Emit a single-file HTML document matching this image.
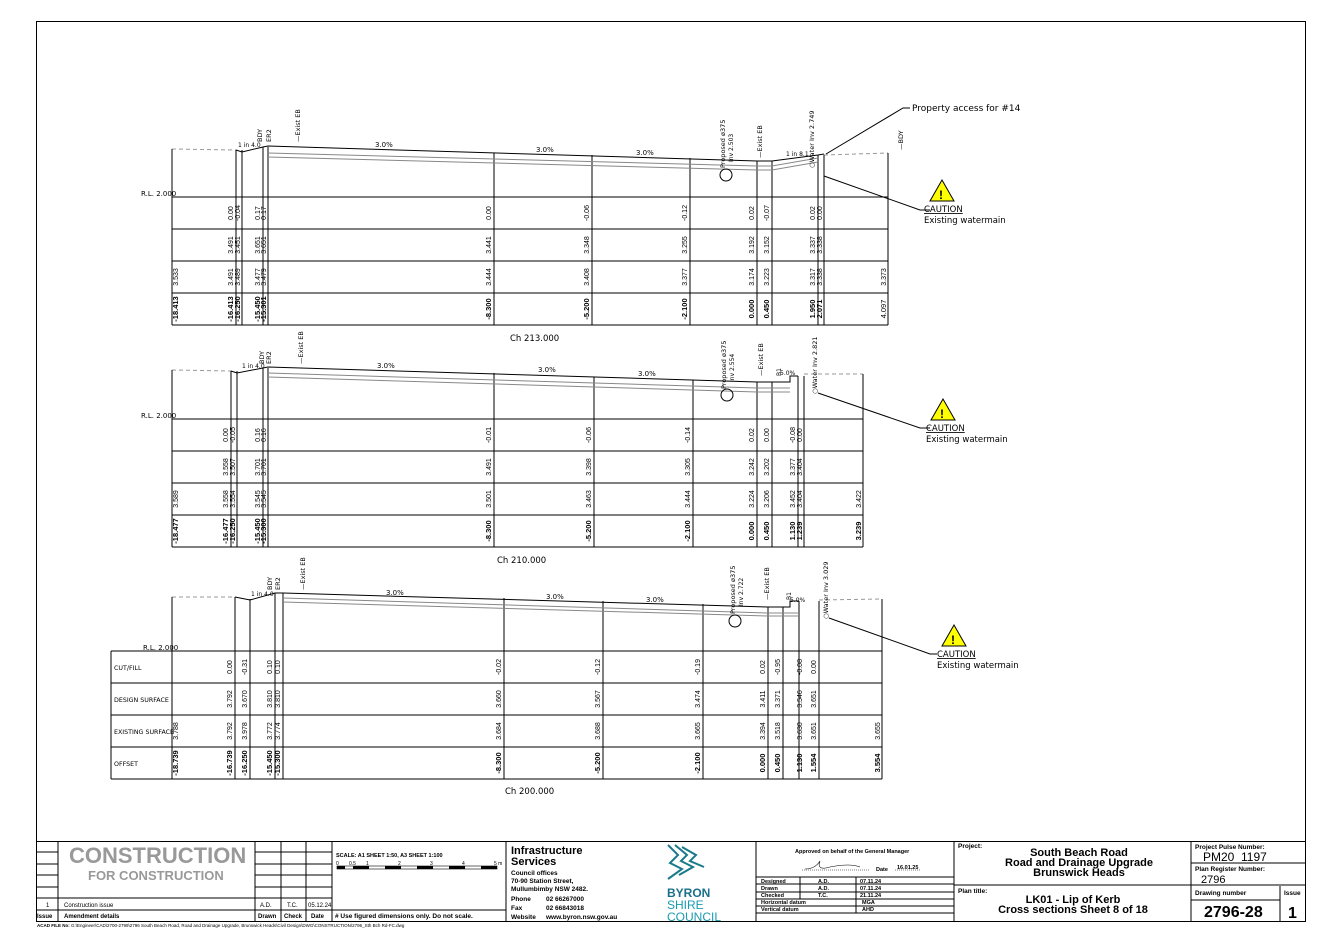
<!DOCTYPE html>
<html><head><meta charset="utf-8"><style>
body{margin:0;background:#fff}
svg{display:block}
text{font-family:"Liberation Sans",sans-serif;fill:#000}
.v{font-size:7px;text-anchor:middle}
.b{font-size:7.5px;font-weight:bold;text-anchor:middle}
.s{font-size:8px;font-family:"DejaVu Sans",sans-serif}
.l{stroke:#000;stroke-width:1;fill:none}
.g{stroke:#888;stroke-width:1;fill:none}
.d{stroke:#999;stroke-width:1;fill:none;stroke-dasharray:4 3}
</style></head><body>
<svg width="1340" height="948" viewBox="0 0 1340 948" xmlns="http://www.w3.org/2000/svg">
<rect x="36.5" y="21.5" width="1269" height="900" class="l"/>

<!-- SECTION 1 -->
<g>
<path class="d" d="M172 149 L236 150 M824 155 L888 153"/>
<path class="l" d="M172 149 V325 M236 150 V325 M242 150 V325 M263 147 V325 M268 147 V325 M494 153 V325 M592 155 V325 M690 158 V325 M757 161 V325 M772 161 V325 M818 155 V325 M824 155 V325 M888 153 V325"/>
<path class="l" d="M172 197H888 M172 229H888 M172 261H888 M172 293H888 M172 325H888"/>
<path class="l" d="M236 150 L242 152 L263 147 L268 146 L757 161 L772 161 L818 155 L824 154"/>
<path class="g" d="M268 153 L757 166 L772 166 L818 158 M268 157 L757 170 L772 170 L818 162"/>
<circle cx="726" cy="175" r="6" class="l"/>
<text class="s" x="141" y="196" style="font-size:7px">R.L. 2.000</text>
<text class="s" x="375" y="147" style="font-size:7px">3.0%</text>
<text class="s" x="536" y="152" style="font-size:7px">3.0%</text>
<text class="s" x="636" y="155" style="font-size:7px">3.0%</text>
<text class="s" x="786" y="156" style="font-size:6px">1 in 8.1</text>
<text class="s" x="238" y="147" style="font-size:6px">1 in 4.0</text>
<text class="s" transform="translate(262,142) rotate(-90)" style="font-size:6.5px">BDY</text>
<text class="s" transform="translate(271,142) rotate(-90)" style="font-size:6.5px">ER2</text>
<text class="s" transform="translate(300,142) rotate(-90)" style="font-size:6.5px">—Exist EB</text>
<text class="s" transform="translate(725,168) rotate(-90)" style="font-size:6.5px">Proposed ø375</text>
<text class="s" transform="translate(733,162) rotate(-90)" style="font-size:6px">Inv 2.503</text>
<text class="s" transform="translate(762,158) rotate(-90)" style="font-size:6.5px">—Exist EB</text>
<text class="s" transform="translate(814,168) rotate(-90)" style="font-size:6.5px">○Water Inv 2.749</text>
<text class="s" transform="translate(903,150) rotate(-90)" style="font-size:6.5px">—BDY</text>
<text class="s" x="510" y="341" style="font-size:8.5px">Ch 213.000</text>
<g class="v">
<text transform="translate(233,213) rotate(-90)">0.00</text><text transform="translate(240,213) rotate(-90)">-0.04</text>
<text transform="translate(260,213) rotate(-90)">0.17</text><text transform="translate(266,213) rotate(-90)">0.17</text>
<text transform="translate(491,213) rotate(-90)">0.00</text><text transform="translate(589,213) rotate(-90)">-0.06</text>
<text transform="translate(687,213) rotate(-90)">-0.12</text><text transform="translate(754,213) rotate(-90)">0.02</text>
<text transform="translate(769,213) rotate(-90)">-0.07</text><text transform="translate(815,213) rotate(-90)">0.02</text><text transform="translate(822,213) rotate(-90)">0.00</text>
<text transform="translate(233,245) rotate(-90)">3.491</text><text transform="translate(240,245) rotate(-90)">3.451</text>
<text transform="translate(260,245) rotate(-90)">3.651</text><text transform="translate(266,245) rotate(-90)">3.651</text>
<text transform="translate(491,245) rotate(-90)">3.441</text><text transform="translate(589,245) rotate(-90)">3.348</text>
<text transform="translate(687,245) rotate(-90)">3.255</text><text transform="translate(754,245) rotate(-90)">3.192</text>
<text transform="translate(769,245) rotate(-90)">3.152</text><text transform="translate(815,245) rotate(-90)">3.337</text><text transform="translate(822,245) rotate(-90)">3.338</text>
<text transform="translate(178,277) rotate(-90)">3.533</text>
<text transform="translate(233,277) rotate(-90)">3.491</text><text transform="translate(240,277) rotate(-90)">3.489</text>
<text transform="translate(260,277) rotate(-90)">3.477</text><text transform="translate(266,277) rotate(-90)">3.479</text>
<text transform="translate(491,277) rotate(-90)">3.444</text><text transform="translate(589,277) rotate(-90)">3.408</text>
<text transform="translate(687,277) rotate(-90)">3.377</text><text transform="translate(754,277) rotate(-90)">3.174</text>
<text transform="translate(769,277) rotate(-90)">3.223</text><text transform="translate(815,277) rotate(-90)">3.317</text><text transform="translate(822,277) rotate(-90)">3.338</text>
<text transform="translate(886,277) rotate(-90)">3.373</text>
</g>
<g class="b">
<text transform="translate(178,309) rotate(-90)">-18.413</text>
<text transform="translate(233,309) rotate(-90)">-16.413</text><text transform="translate(240,309) rotate(-90)">-16.250</text>
<text transform="translate(260,309) rotate(-90)">-15.450</text><text transform="translate(266,309) rotate(-90)">-15.301</text>
<text transform="translate(491,309) rotate(-90)">-8.300</text><text transform="translate(589,309) rotate(-90)">-5.200</text>
<text transform="translate(687,309) rotate(-90)">-2.100</text><text transform="translate(754,309) rotate(-90)">0.000</text>
<text transform="translate(769,309) rotate(-90)">0.450</text><text transform="translate(815,309) rotate(-90)">1.950</text><text transform="translate(822,309) rotate(-90)">2.071</text>
<text transform="translate(886,309) rotate(-90)" style="font-weight:normal">4.097</text>
</g>
<path class="l" d="M826 154 L903 108 H910 M824 176 L920 210 H930"/>
<text class="s" x="912" y="111" style="font-size:9px">Property access for #14</text>
<polygon points="942,180 930,201 954,201" fill="#ff0" stroke="#000"/><text x="939" y="199" style="font-size:12px;font-weight:bold">!</text>
<text class="s" x="924" y="212" style="font-size:8.5px;text-decoration:underline">CAUTION</text>
<text class="s" x="924" y="223" style="font-size:8.5px">Existing watermain</text>
</g>

<!-- SECTION 2 -->
<g>
<path class="d" d="M172 370 L231 371 M804 374 L863 374"/>
<path class="l" d="M172 370 V547 M231 371 V547 M237 371 V547 M263 368 V547 M268 368 V547 M494 373 V547 M594 377 V547 M693 380 V547 M757 382 V547 M772 382 V547 M798 376 V547 M804 376 V547 M863 374 V547"/>
<path class="l" d="M172 419H863 M172 451H863 M172 483H863 M172 515H863 M172 547H863"/>
<path class="l" d="M231 371 L237 373 L263 368 L268 367 L757 382 L790 382 L790 376 L798 376"/>
<path class="g" d="M268 373 L757 388 L790 388 M268 377 L757 392 L790 392"/>
<circle cx="727" cy="395" r="6" class="l"/>
<text class="s" x="141" y="418" style="font-size:7px">R.L. 2.000</text>
<text class="s" x="377" y="368" style="font-size:7px">3.0%</text>
<text class="s" x="538" y="372" style="font-size:7px">3.0%</text>
<text class="s" x="638" y="376" style="font-size:7px">3.0%</text>
<text class="s" x="780" y="375" style="font-size:6px">5.0%</text>
<text class="s" x="242" y="368" style="font-size:6px">1 in 4.0</text>
<text class="s" transform="translate(264,364) rotate(-90)" style="font-size:6.5px">BDY</text>
<text class="s" transform="translate(271,364) rotate(-90)" style="font-size:6.5px">ER2</text>
<text class="s" transform="translate(303,364) rotate(-90)" style="font-size:6.5px">—Exist EB</text>
<text class="s" transform="translate(726,389) rotate(-90)" style="font-size:6.5px">Proposed ø375</text>
<text class="s" transform="translate(734,382) rotate(-90)" style="font-size:6px">Inv 2.554</text>
<text class="s" transform="translate(763,376) rotate(-90)" style="font-size:6.5px">—Exist EB</text>
<text class="s" transform="translate(781,376) rotate(-90)" style="font-size:6px">B1</text>
<text class="s" transform="translate(817,394) rotate(-90)" style="font-size:6.5px">○Water Inv 2.821</text>
<text class="s" x="497" y="563" style="font-size:8.5px">Ch 210.000</text>
<g class="v">
<text transform="translate(228,435) rotate(-90)">0.00</text><text transform="translate(235,435) rotate(-90)">-0.05</text>
<text transform="translate(260,435) rotate(-90)">0.16</text><text transform="translate(266,435) rotate(-90)">0.16</text>
<text transform="translate(491,435) rotate(-90)">-0.01</text><text transform="translate(591,435) rotate(-90)">-0.06</text>
<text transform="translate(690,435) rotate(-90)">-0.14</text><text transform="translate(754,435) rotate(-90)">0.02</text>
<text transform="translate(769,435) rotate(-90)">0.00</text><text transform="translate(795,435) rotate(-90)">-0.08</text><text transform="translate(802,435) rotate(-90)">0.00</text>
<text transform="translate(228,467) rotate(-90)">3.558</text><text transform="translate(235,467) rotate(-90)">3.507</text>
<text transform="translate(260,467) rotate(-90)">3.701</text><text transform="translate(266,467) rotate(-90)">3.701</text>
<text transform="translate(491,467) rotate(-90)">3.491</text><text transform="translate(591,467) rotate(-90)">3.398</text>
<text transform="translate(690,467) rotate(-90)">3.305</text><text transform="translate(754,467) rotate(-90)">3.242</text>
<text transform="translate(769,467) rotate(-90)">3.202</text><text transform="translate(795,467) rotate(-90)">3.377</text><text transform="translate(802,467) rotate(-90)">3.404</text>
<text transform="translate(178,499) rotate(-90)">3.589</text>
<text transform="translate(228,499) rotate(-90)">3.558</text><text transform="translate(235,499) rotate(-90)">3.554</text>
<text transform="translate(260,499) rotate(-90)">3.545</text><text transform="translate(266,499) rotate(-90)">3.545</text>
<text transform="translate(491,499) rotate(-90)">3.501</text><text transform="translate(591,499) rotate(-90)">3.463</text>
<text transform="translate(690,499) rotate(-90)">3.444</text><text transform="translate(754,499) rotate(-90)">3.224</text>
<text transform="translate(769,499) rotate(-90)">3.206</text><text transform="translate(795,499) rotate(-90)">3.452</text><text transform="translate(802,499) rotate(-90)">3.404</text>
<text transform="translate(861,499) rotate(-90)">3.422</text>
</g>
<g class="b">
<text transform="translate(178,531) rotate(-90)">-18.477</text>
<text transform="translate(228,531) rotate(-90)">-16.477</text><text transform="translate(235,531) rotate(-90)">-16.250</text>
<text transform="translate(260,531) rotate(-90)">-15.450</text><text transform="translate(266,531) rotate(-90)">-15.300</text>
<text transform="translate(491,531) rotate(-90)">-8.300</text><text transform="translate(591,531) rotate(-90)">-5.200</text>
<text transform="translate(690,531) rotate(-90)">-2.100</text><text transform="translate(754,531) rotate(-90)">0.000</text>
<text transform="translate(769,531) rotate(-90)">0.450</text><text transform="translate(795,531) rotate(-90)">1.130</text><text transform="translate(802,531) rotate(-90)">1.239</text>
<text transform="translate(861,531) rotate(-90)">3.239</text>
</g>
<path class="l" d="M818 393 L920 428 H930"/>
<polygon points="943,399 931,420 955,420" fill="#ff0" stroke="#000"/><text x="940" y="418" style="font-size:12px;font-weight:bold">!</text>
<text class="s" x="926" y="431" style="font-size:8.5px;text-decoration:underline">CAUTION</text>
<text class="s" x="926" y="442" style="font-size:8.5px">Existing watermain</text>
</g>

<!-- SECTION 3 -->
<g>
<path class="d" d="M172 597 L235 597 M819 600 L882 599"/>
<path class="l" d="M172 597 V779 M235 597 V779 M250 599 V779 M275 593 V779 M283 593 V779 M504 598 V779 M603 601 V779 M703 604 V779 M768 607 V779 M783 607 V779 M799 601 V779 M819 601 V779 M882 599 V779"/>
<path class="l" d="M111 651H882 M111 683H882 M111 715H882 M111 747H882 M111 779H882 M111 651 V779"/>
<path class="l" d="M235 597 L250 600 L275 593 L283 593 L768 607 L790 607 L790 601 L799 601"/>
<path class="g" d="M283 598 L768 613 L798 613 M283 602 L768 616 L798 616"/>
<circle cx="735" cy="621" r="6" class="l"/>
<text class="s" x="143" y="650" style="font-size:7px">R.L. 2.000</text>
<text class="s" x="114" y="670" style="font-size:6.3px">CUT/FILL</text>
<text class="s" x="114" y="702" style="font-size:6.3px">DESIGN SURFACE</text>
<text class="s" x="114" y="734" style="font-size:6.3px">EXISTING SURFACE</text>
<text class="s" x="114" y="766" style="font-size:6.3px">OFFSET</text>
<text class="s" x="386" y="595" style="font-size:7px">3.0%</text>
<text class="s" x="546" y="599" style="font-size:7px">3.0%</text>
<text class="s" x="646" y="602" style="font-size:7px">3.0%</text>
<text class="s" x="790" y="602" style="font-size:6px">5.0%</text>
<text class="s" x="251" y="596" style="font-size:6px">1 in 4.0</text>
<text class="s" transform="translate(272,590) rotate(-90)" style="font-size:6.5px">BDY</text>
<text class="s" transform="translate(280,590) rotate(-90)" style="font-size:6.5px">ER2</text>
<text class="s" transform="translate(305,590) rotate(-90)" style="font-size:6.5px">—Exist EB</text>
<text class="s" transform="translate(735,614) rotate(-90)" style="font-size:6.5px">Proposed ø375</text>
<text class="s" transform="translate(743,606) rotate(-90)" style="font-size:6px">Inv 2.722</text>
<text class="s" transform="translate(769,600) rotate(-90)" style="font-size:6.5px">—Exist EB</text>
<text class="s" transform="translate(791,600) rotate(-90)" style="font-size:6px">B1</text>
<text class="s" transform="translate(828,619) rotate(-90)" style="font-size:6.5px">○Water Inv 3.029</text>
<text class="s" x="505" y="794" style="font-size:8.5px">Ch 200.000</text>
<g class="v">
<text transform="translate(232,667) rotate(-90)">0.00</text><text transform="translate(247,667) rotate(-90)">-0.31</text>
<text transform="translate(272,667) rotate(-90)">0.10</text><text transform="translate(280,667) rotate(-90)">0.10</text>
<text transform="translate(501,667) rotate(-90)">-0.02</text><text transform="translate(600,667) rotate(-90)">-0.12</text>
<text transform="translate(700,667) rotate(-90)">-0.19</text><text transform="translate(765,667) rotate(-90)">0.02</text>
<text transform="translate(780,667) rotate(-90)">-0.95</text><text transform="translate(802,667) rotate(-90)">-0.08</text><text transform="translate(816,667) rotate(-90)">0.00</text>
<text transform="translate(232,699) rotate(-90)">3.792</text><text transform="translate(247,699) rotate(-90)">3.670</text>
<text transform="translate(272,699) rotate(-90)">3.810</text><text transform="translate(280,699) rotate(-90)">3.810</text>
<text transform="translate(501,699) rotate(-90)">3.660</text><text transform="translate(600,699) rotate(-90)">3.567</text>
<text transform="translate(700,699) rotate(-90)">3.474</text><text transform="translate(765,699) rotate(-90)">3.411</text>
<text transform="translate(780,699) rotate(-90)">3.371</text><text transform="translate(802,699) rotate(-90)">3.546</text><text transform="translate(816,699) rotate(-90)">3.651</text>
<text transform="translate(178,731) rotate(-90)">3.788</text>
<text transform="translate(232,731) rotate(-90)">3.792</text><text transform="translate(247,731) rotate(-90)">3.978</text>
<text transform="translate(272,731) rotate(-90)">3.772</text><text transform="translate(280,731) rotate(-90)">3.774</text>
<text transform="translate(501,731) rotate(-90)">3.684</text><text transform="translate(600,731) rotate(-90)">3.688</text>
<text transform="translate(700,731) rotate(-90)">3.665</text><text transform="translate(765,731) rotate(-90)">3.394</text>
<text transform="translate(780,731) rotate(-90)">3.518</text><text transform="translate(802,731) rotate(-90)">3.630</text><text transform="translate(816,731) rotate(-90)">3.651</text>
<text transform="translate(880,731) rotate(-90)">3.655</text>
</g>
<g class="b">
<text transform="translate(178,763) rotate(-90)">-18.739</text>
<text transform="translate(232,763) rotate(-90)">-16.739</text><text transform="translate(247,763) rotate(-90)">-16.250</text>
<text transform="translate(272,763) rotate(-90)">-15.450</text><text transform="translate(280,763) rotate(-90)">-15.300</text>
<text transform="translate(501,763) rotate(-90)">-8.300</text><text transform="translate(600,763) rotate(-90)">-5.200</text>
<text transform="translate(700,763) rotate(-90)">-2.100</text><text transform="translate(765,763) rotate(-90)">0.000</text>
<text transform="translate(780,763) rotate(-90)">0.450</text><text transform="translate(802,763) rotate(-90)">1.130</text><text transform="translate(816,763) rotate(-90)">1.554</text>
<text transform="translate(880,763) rotate(-90)">3.554</text>
</g>
<path class="l" d="M829 618 L930 654 H937"/>
<polygon points="954,625 942,646 966,646" fill="#ff0" stroke="#000"/><text x="951" y="644" style="font-size:12px;font-weight:bold">!</text>
<text class="s" x="937" y="657" style="font-size:8.5px;text-decoration:underline">CAUTION</text>
<text class="s" x="937" y="668" style="font-size:8.5px">Existing watermain</text>
</g>

<!-- TITLE BLOCK -->
<g>
<path class="l" d="M36 841.5 H1305 M36 921.5 H1305"/>
<path class="l" d="M58 841 V922 M255 841 V922 M281 841 V922 M306 841 V922 M332 841 V922 M506 841 V922 M756 841 V922 M954 841 V922 M1191 841 V922 M1280 886 V922"/>
<path class="l" d="M36 852H58 M36 864H58 M36 875H58 M36 887H58 M255 852H332 M255 864H332 M255 875H332 M255 887H332 M36 898H332 M36 910H506 M756 877H954 M756 884H954 M756 892H954 M756 899H954 M756 906H954 M756 913H954 M954 885H1191 M1191 863H1305 M1191 885H1305 M1191 900H1280 M800 877V899 M856 877V913"/>
<text x="69" y="863" style="font-size:22px;font-weight:bold;fill:#999">CONSTRUCTION</text>
<text x="88" y="880" style="font-size:13px;font-weight:bold;fill:#999">FOR CONSTRUCTION</text>
<text x="46" y="907" style="font-size:6px">1</text><text x="64" y="907" style="font-size:6px">Construction issue</text>
<text x="260" y="907" style="font-size:6px">A.D.</text><text x="287" y="907" style="font-size:6px">T.C.</text><text x="308" y="907" style="font-size:6px">05.12.24</text>
<text x="37" y="918" style="font-size:6px;font-weight:bold">Issue</text><text x="64" y="918" style="font-size:6px;font-weight:bold">Amendment details</text>
<text x="258" y="918" style="font-size:6px;font-weight:bold">Drawn</text><text x="284" y="918" style="font-size:6px;font-weight:bold">Check</text><text x="311" y="918" style="font-size:6px;font-weight:bold">Date</text>
<text x="335" y="918" style="font-size:6.5px;font-weight:bold"># Use figured dimensions only. Do not scale.</text>
<text x="336" y="857" style="font-size:5.5px;font-weight:bold">SCALE: A1 SHEET 1:50, A3 SHEET 1:100</text>
<g style="font-size:5px"><text x="336" y="865">0</text><text x="349" y="865">0.5</text><text x="366" y="865">1</text><text x="398" y="865">2</text><text x="430" y="865">3</text><text x="462" y="865">4</text><text x="494" y="865">5 m</text></g>
<rect x="337" y="866" width="160" height="3" fill="none" stroke="#000" stroke-width=".6"/>
<path d="M337 866h8v3h-8zM353 866h16v3h-16zM385 866h16v3h-16zM417 866h16v3h-16zM449 866h16v3h-16zM481 866h16v3h-16z"/>
<text x="511" y="854" style="font-size:11px;font-weight:bold">Infrastructure</text>
<text x="511" y="865" style="font-size:11px;font-weight:bold">Services</text>
<text x="511" y="875" style="font-size:6.5px;font-weight:bold">Council offices</text>
<text x="511" y="883" style="font-size:6.5px;font-weight:bold">70-90 Station Street,</text>
<text x="511" y="891" style="font-size:6.5px;font-weight:bold">Mullumbimby  NSW 2482.</text>
<text x="511" y="901" style="font-size:6.5px;font-weight:bold">Phone</text><text x="546" y="901" style="font-size:6.5px;font-weight:bold">02 66267000</text>
<text x="511" y="910" style="font-size:6.5px;font-weight:bold">Fax</text><text x="546" y="910" style="font-size:6.5px;font-weight:bold">02 66843018</text>
<text x="511" y="919" style="font-size:6.5px;font-weight:bold">Website</text><text x="546" y="919" style="font-size:6.5px;font-weight:bold">www.byron.nsw.gov.au</text>
<path d="M668 845 l10 10 l-8 8 l12 6 l-14 10 M675 845 l12 10 l-6 6 l12 6 l-14 8 M682 847 l14 8 l-6 6 l14 6" stroke="#1a7a8a" stroke-width="2" fill="none"/>
<text x="667" y="897" style="font-size:12px;font-weight:bold;fill:#1a6f8a">BYRON</text>
<text x="667" y="909" style="font-size:12px;fill:#1a9ab0">SHIRE</text>
<text x="667" y="921" style="font-size:12px;fill:#1a9ab0">COUNCIL</text>
<text x="795" y="853" style="font-size:5.5px;font-weight:bold">Approved on behalf of the General Manager</text>
<path d="M805 869 q10 0 15-8 q-4 10 10 6 q20-4 30 0" stroke="#000" stroke-width=".6" fill="none"/>
<path d="M802 870 H870 M895 870 H920" stroke="#000" stroke-dasharray="1 1" stroke-width=".6"/>
<text x="876" y="871" style="font-size:5.5px;font-weight:bold">Date</text><text x="897" y="869" style="font-size:5.5px;font-weight:bold">16.01.25</text>
<g style="font-size:5.5px;font-weight:bold">
<text x="761" y="883">Designed</text><text x="818" y="883">A.D.</text><text x="860" y="883">07.11.24</text>
<text x="761" y="890">Drawn</text><text x="818" y="890">A.D.</text><text x="860" y="890">07.11.24</text>
<text x="761" y="897">Checked</text><text x="818" y="897">T.C.</text><text x="860" y="897">21.11.24</text>
<text x="761" y="904">Horizontal datum</text><text x="862" y="904">MGA</text>
<text x="761" y="911">Vertical datum</text><text x="862" y="911">AHD</text>
</g>
<text x="958" y="848" style="font-size:6.5px;font-weight:bold">Project:</text>
<text x="1079" y="856" style="font-size:11px;font-weight:bold;text-anchor:middle">South Beach Road</text>
<text x="1079" y="866" style="font-size:11px;font-weight:bold;text-anchor:middle">Road and Drainage Upgrade</text>
<text x="1079" y="876" style="font-size:11px;font-weight:bold;text-anchor:middle">Brunswick Heads</text>
<text x="958" y="893" style="font-size:6.5px;font-weight:bold">Plan title:</text>
<text x="1073" y="903" style="font-size:11px;font-weight:bold;text-anchor:middle">LK01 - Lip of Kerb</text>
<text x="1073" y="913" style="font-size:11px;font-weight:bold;text-anchor:middle">Cross sections Sheet 8 of 18</text>
<text x="1195" y="849" style="font-size:6.5px;font-weight:bold">Project Pulse Number:</text>
<text x="1203" y="861" style="font-size:12px">PM20_1197</text>
<text x="1195" y="871" style="font-size:6.5px;font-weight:bold">Plan Register Number:</text>
<text x="1201" y="883" style="font-size:11px">2796</text>
<text x="1195" y="895" style="font-size:6.5px;font-weight:bold">Drawing number</text>
<text x="1284" y="895" style="font-size:6.5px;font-weight:bold">Issue</text>
<text x="1204" y="917" style="font-size:16px;font-weight:bold">2796-28</text>
<text x="1288" y="918" style="font-size:16px;font-weight:bold">1</text>
<text x="37" y="927" style="font-size:4.5px"><tspan font-weight="bold">ACAD FILE No:</tspan>  G:\Engineer\CAD\2700-2799\2796  South Beach Road, Road and Drainage Upgrade, Brunswick Heads\Civil Design\DWG\CONSTRUCTION\2796_Sth Bch Rd-FC.dwg</text>
</g>
</svg>
</body></html>
